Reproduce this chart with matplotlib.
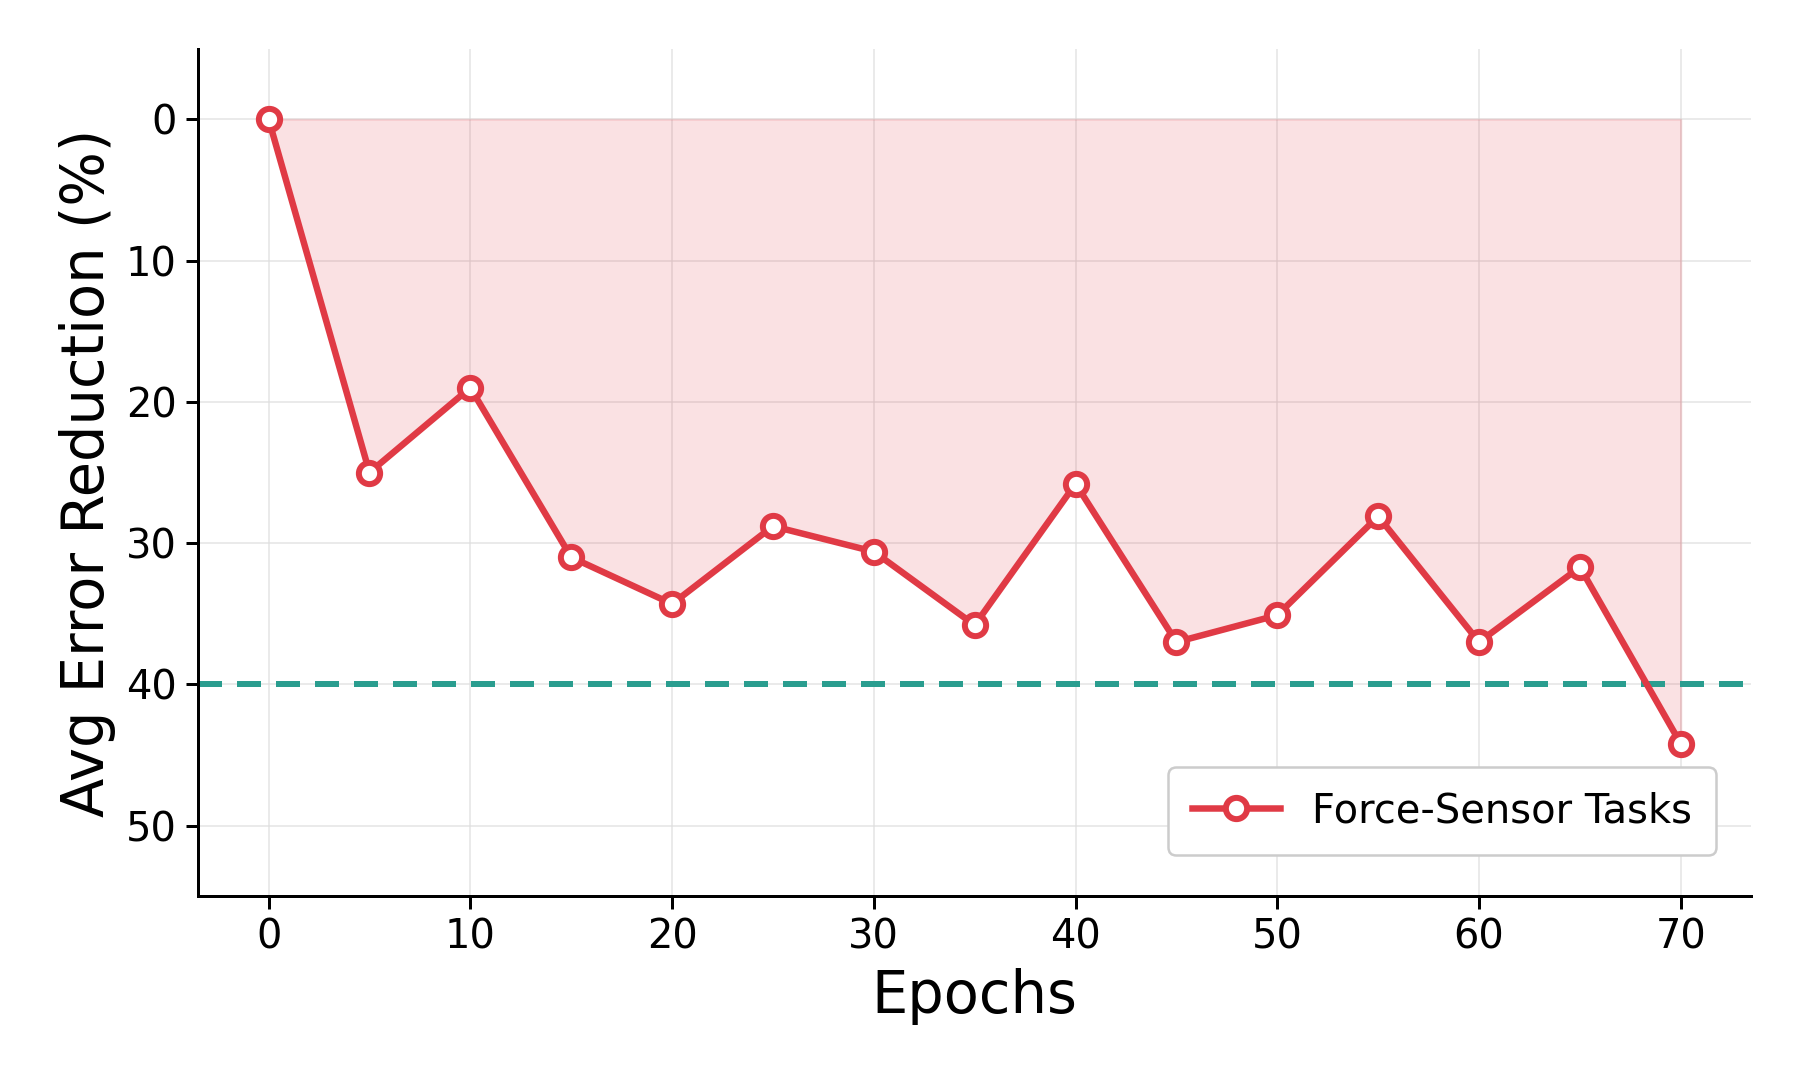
import matplotlib
matplotlib.use("Agg")
import matplotlib.pyplot as plt

epochs = [0, 5, 10, 15, 20, 25, 30, 35, 40, 45, 50, 55, 60, 65, 70]
reduction = [0, 25.0, 19.0, 31.0, 34.3, 28.8, 30.6, 35.8, 25.8, 37.0, 35.1, 28.1, 37.0, 31.7, 44.2]
target = 40
series_label = "Force-Sensor Tasks"

red = "#e03a45"
teal = "#2a9d8f"

fig = plt.figure(figsize=(10, 6), dpi=180)
ax = fig.add_axes([0.11, 0.17, 0.863, 0.785])
ax.fill_between(epochs, 0, reduction, color=red, alpha=0.15, linewidth=0.8)
ax.axhline(target, color=teal, linestyle="--", linewidth=2.4, dashes=(4, 2.5))
ax.plot(epochs, reduction, color=red, linewidth=2.6, marker="o", markersize=8.5,
        markerfacecolor="white", markeredgecolor=red, markeredgewidth=2.4,
        label=series_label, zorder=3)
ax.set_xlim(-3.5, 73.5)
ax.set_ylim(55, -5)
ax.set_xticks(range(0, 71, 10))
ax.set_yticks(range(0, 51, 10))
ax.grid(True, color="#dddddd", linewidth=0.6, alpha=0.8)
ax.set_axisbelow(True)
for s in ["top", "right"]:
    ax.spines[s].set_visible(False)
for s in ["left", "bottom"]:
    ax.spines[s].set_linewidth(1.2)
ax.tick_params(labelsize=16, width=1.2, length=5)
ax.set_xlabel("Epochs", fontsize=23)
ax.set_ylabel("Avg Error Reduction (%)", fontsize=23)
ax.legend(loc="lower right", fontsize=16, frameon=True, framealpha=1,
          edgecolor="#cccccc", borderpad=0.6, handlelength=2.2,
          bbox_to_anchor=(0.99, 0.025))
fig.savefig("out.png", dpi=180)
